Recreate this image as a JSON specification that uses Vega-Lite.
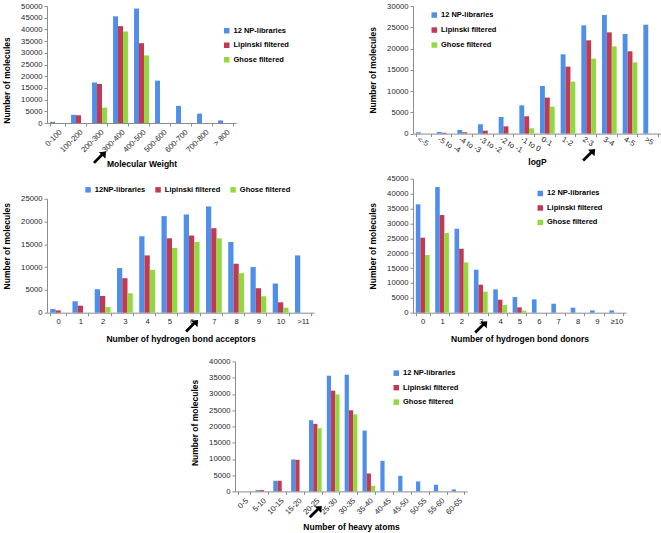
{
  "$schema": "https://vega.github.io/schema/vega-lite/v6.json",
  "padding": {"left": 2, "top": 2, "right": 0, "bottom": 0},
  "background": "white",
  "config": {
    "font": "Liberation Sans",
    "view": {"stroke": null},
    "axis": {"grid": false, "domainColor": "#8c8c8c", "tickColor": "#8c8c8c", "tickSize": 3, "labelPadding": 2, "labelFontSize": 7.7, "labelColor": "#262626", "titleFontSize": 8.5, "titleFontWeight": "bold", "titleColor": "#000000"},
    "axisY": {"titlePadding": 9, "format": "d"},
    "legend": {"title": null, "orient": "none", "symbolType": "square", "symbolSize": 30, "symbolStrokeWidth": 0, "labelFontSize": 7.5, "labelFontWeight": "bold", "labelColor": "#000000", "rowPadding": 5.5, "labelOffset": 3}
  },
  "columns": 1,
  "align": "none",
  "bounds": "full",
  "spacing": 6.7,
  "resolve": {"scale": {"x": "independent", "y": "independent", "color": "independent", "xOffset": "independent"}, "legend": {"color": "independent"}},
  "concat": [
    {
      "columns": 2,
      "align": "none",
      "bounds": "full",
      "spacing": 54,
      "resolve": {"scale": {"x": "independent", "y": "independent", "color": "independent", "xOffset": "independent"}, "legend": {"color": "independent"}},
      "concat": [
        {
          "width": 189, "height": 117,
          "encoding": {
            "x": {"field": "cat", "type": "nominal", "scale": {"domain": ["0-100","100-200","200-300","300-400","400-500","500-600","600-700","700-800","> 800"], "paddingInner": 0.29, "paddingOuter": 0.145}, "axis": {"title": "Molecular Weight", "labelAngle": -45, "titlePadding": 6, "tickBand": "extent"}},
            "y": {"field": "v", "type": "quantitative", "scale": {"domain": [0, 50000]}, "axis": {"title": "Number of molecules", "titleY": 74, "values": [0,5000,10000,15000,20000,25000,30000,35000,40000,45000,50000]}}
          },
          "layer": [
            {
              "data": {"values": [
                {"cat": "0-100", "s": "12 NP-libraries", "v": 500},
                {"cat": "100-200", "s": "12 NP-libraries", "v": 3500},
                {"cat": "100-200", "s": "Lipinski filtered", "v": 3300},
                {"cat": "200-300", "s": "12 NP-libraries", "v": 17300},
                {"cat": "200-300", "s": "Lipinski filtered", "v": 16700},
                {"cat": "200-300", "s": "Ghose filtered", "v": 6600},
                {"cat": "300-400", "s": "12 NP-libraries", "v": 45600},
                {"cat": "300-400", "s": "Lipinski filtered", "v": 41400},
                {"cat": "300-400", "s": "Ghose filtered", "v": 39100},
                {"cat": "400-500", "s": "12 NP-libraries", "v": 48900},
                {"cat": "400-500", "s": "Lipinski filtered", "v": 34100},
                {"cat": "400-500", "s": "Ghose filtered", "v": 28900},
                {"cat": "500-600", "s": "12 NP-libraries", "v": 18100},
                {"cat": "600-700", "s": "12 NP-libraries", "v": 7300},
                {"cat": "700-800", "s": "12 NP-libraries", "v": 4000},
                {"cat": "> 800", "s": "12 NP-libraries", "v": 1100}
              ]},
              "mark": "bar",
              "encoding": {
                "xOffset": {"field": "s", "type": "nominal", "scale": {"domain": ["12 NP-libraries","Lipinski filtered","Ghose filtered"], "paddingInner": 0, "paddingOuter": 0}},
                "color": {"field": "s", "type": "nominal", "scale": {"domain": ["12 NP-libraries","Lipinski filtered","Ghose filtered"], "range": ["#4F8FEA","#C13A51","#90DA3E"]}, "legend": {"legendX": 151, "legendY": -4, "padding": 25}}
              }
            },
            {
              "data": {"values": [{"cat": "200-300", "v": -14960}]},
              "mark": {"type": "point", "shape": "M1,-1 L0.9,0.1 L0.5,-0.3 L-0.7,0.9 L-1,0.6 L0.2,-0.6 L-0.1,-0.9 Z", "filled": true, "color": "#000000", "opacity": 1, "size": 170}
            }
          ]
        },
        {
          "width": 248, "height": 127.6,
          "encoding": {
            "x": {"field": "cat", "type": "nominal", "scale": {"domain": ["<-5","-5 to -4","-4 to -3","-3 to -2","-2 to -1","-1 to 0","0-1","1-2","2-3","3-4","4-5",">5"], "paddingInner": 0.29, "paddingOuter": 0.145}, "axis": {"title": "logP", "labelAngle": 30, "labelAlign": "left", "labelBaseline": "middle", "labelOffset": -6, "titlePadding": 4, "tickBand": "extent"}},
            "y": {"field": "v", "type": "quantitative", "scale": {"domain": [0, 30000]}, "axis": {"title": "Number of molecules", "values": [0,5000,10000,15000,20000,25000,30000]}}
          },
          "layer": [
            {
              "data": {"values": [
                {"cat": "<-5", "s": "12 NP-libraries", "v": 300},
                {"cat": "-5 to -4", "s": "12 NP-libraries", "v": 400},
                {"cat": "-5 to -4", "s": "Lipinski filtered", "v": 200},
                {"cat": "-4 to -3", "s": "12 NP-libraries", "v": 860},
                {"cat": "-4 to -3", "s": "Lipinski filtered", "v": 300},
                {"cat": "-3 to -2", "s": "12 NP-libraries", "v": 2200},
                {"cat": "-3 to -2", "s": "Lipinski filtered", "v": 700},
                {"cat": "-2 to -1", "s": "12 NP-libraries", "v": 3900},
                {"cat": "-2 to -1", "s": "Lipinski filtered", "v": 1700},
                {"cat": "-1 to 0", "s": "12 NP-libraries", "v": 6650},
                {"cat": "-1 to 0", "s": "Lipinski filtered", "v": 4070},
                {"cat": "-1 to 0", "s": "Ghose filtered", "v": 1250},
                {"cat": "0-1", "s": "12 NP-libraries", "v": 11200},
                {"cat": "0-1", "s": "Lipinski filtered", "v": 8460},
                {"cat": "0-1", "s": "Ghose filtered", "v": 6340},
                {"cat": "1-2", "s": "12 NP-libraries", "v": 18640},
                {"cat": "1-2", "s": "Lipinski filtered", "v": 15740},
                {"cat": "1-2", "s": "Ghose filtered", "v": 12220},
                {"cat": "2-3", "s": "12 NP-libraries", "v": 25450},
                {"cat": "2-3", "s": "Lipinski filtered", "v": 21930},
                {"cat": "2-3", "s": "Ghose filtered", "v": 17620},
                {"cat": "3-4", "s": "12 NP-libraries", "v": 27880},
                {"cat": "3-4", "s": "Lipinski filtered", "v": 23800},
                {"cat": "3-4", "s": "Ghose filtered", "v": 20520},
                {"cat": "4-5", "s": "12 NP-libraries", "v": 23410},
                {"cat": "4-5", "s": "Lipinski filtered", "v": 19340},
                {"cat": "4-5", "s": "Ghose filtered", "v": 16760},
                {"cat": ">5", "s": "12 NP-libraries", "v": 25600}
              ]},
              "mark": "bar",
              "encoding": {
                "xOffset": {"field": "s", "type": "nominal", "scale": {"domain": ["12 NP-libraries","Lipinski filtered","Ghose filtered"], "paddingInner": 0, "paddingOuter": 0}},
                "color": {"field": "s", "type": "nominal", "scale": {"domain": ["12 NP-libraries","Lipinski filtered","Ghose filtered"], "range": ["#4F8FEA","#C13A51","#90DA3E"]}, "legend": {"legendX": 17.5, "legendY": 5.3, "rowPadding": 6}}
              }
            },
            {
              "data": {"values": [{"cat": "2-3", "v": -5170}]},
              "mark": {"type": "point", "shape": "M1,-1 L0.9,0.1 L0.5,-0.3 L-0.7,0.9 L-1,0.6 L0.2,-0.6 L-0.1,-0.9 Z", "filled": true, "color": "#000000", "opacity": 1, "size": 170}
            }
          ]
        }
      ]
    },
    {
      "columns": 2,
      "align": "none",
      "bounds": "full",
      "spacing": 54,
      "resolve": {"scale": {"x": "independent", "y": "independent", "color": "independent", "xOffset": "independent"}, "legend": {"color": "independent"}},
      "concat": [
        {
          "width": 267, "height": 134,
          "encoding": {
            "x": {"field": "cat", "type": "nominal", "scale": {"domain": ["0","1","2","3","4","5","6","7","8","9","10",">11"], "paddingInner": 0.29, "paddingOuter": 0.145}, "axis": {"title": "Number of hydrogen bond acceptors", "labelAngle": 0, "titlePadding": 9, "tickBand": "extent"}},
            "y": {"field": "v", "type": "quantitative", "scale": {"domain": [0, 25000], "range": [134, 20]}, "axis": {"title": "Number of molecules", "titleY": 67, "values": [0,5000,10000,15000,20000,25000]}}
          },
          "layer": [
            {
              "data": {"values": [
                {"cat": "0", "s": "12NP-libraries", "v": 800},
                {"cat": "0", "s": "Lipinski filtered", "v": 500},
                {"cat": "1", "s": "12NP-libraries", "v": 2500},
                {"cat": "1", "s": "Lipinski filtered", "v": 1540},
                {"cat": "2", "s": "12NP-libraries", "v": 5150},
                {"cat": "2", "s": "Lipinski filtered", "v": 3680},
                {"cat": "2", "s": "Ghose filtered", "v": 1250},
                {"cat": "3", "s": "12NP-libraries", "v": 9780},
                {"cat": "3", "s": "Lipinski filtered", "v": 7570},
                {"cat": "3", "s": "Ghose filtered", "v": 4260},
                {"cat": "4", "s": "12NP-libraries", "v": 16760},
                {"cat": "4", "s": "Lipinski filtered", "v": 12570},
                {"cat": "4", "s": "Ghose filtered", "v": 9410},
                {"cat": "5", "s": "12NP-libraries", "v": 21180},
                {"cat": "5", "s": "Lipinski filtered", "v": 16320},
                {"cat": "5", "s": "Ghose filtered", "v": 14190},
                {"cat": "6", "s": "12NP-libraries", "v": 21540},
                {"cat": "6", "s": "Lipinski filtered", "v": 16910},
                {"cat": "6", "s": "Ghose filtered", "v": 15510},
                {"cat": "7", "s": "12NP-libraries", "v": 23310},
                {"cat": "7", "s": "Lipinski filtered", "v": 18530},
                {"cat": "7", "s": "Ghose filtered", "v": 16320},
                {"cat": "8", "s": "12NP-libraries", "v": 15510},
                {"cat": "8", "s": "Lipinski filtered", "v": 10740},
                {"cat": "8", "s": "Ghose filtered", "v": 8680},
                {"cat": "9", "s": "12NP-libraries", "v": 10000},
                {"cat": "9", "s": "Lipinski filtered", "v": 5370},
                {"cat": "9", "s": "Ghose filtered", "v": 3600},
                {"cat": "10", "s": "12NP-libraries", "v": 6400},
                {"cat": "10", "s": "Lipinski filtered", "v": 2280},
                {"cat": "10", "s": "Ghose filtered", "v": 1100},
                {"cat": ">11", "s": "12NP-libraries", "v": 12570}
              ]},
              "mark": "bar",
              "encoding": {
                "xOffset": {"field": "s", "type": "nominal", "scale": {"domain": ["12NP-libraries","Lipinski filtered","Ghose filtered"], "paddingInner": 0, "paddingOuter": 0}},
                "color": {"field": "s", "type": "nominal", "scale": {"domain": ["12NP-libraries","Lipinski filtered","Ghose filtered"], "range": ["#4F8FEA","#C13A51","#90DA3E"]}, "legend": {"legendX": 37.3, "legendY": 7, "direction": "horizontal", "columns": 3, "columnPadding": 9}}
              }
            },
            {
              "data": {"values": [{"cat": "6", "v": -3043}]},
              "mark": {"type": "point", "shape": "M1,-1 L0.9,0.1 L0.5,-0.3 L-0.7,0.9 L-1,0.6 L0.2,-0.6 L-0.1,-0.9 Z", "filled": true, "color": "#000000", "opacity": 1, "size": 170}
            }
          ]
        },
        {
          "width": 213, "height": 134,
          "encoding": {
            "x": {"field": "cat", "type": "nominal", "scale": {"domain": ["0","1","2","3","4","5","6","7","8","9","≥10"], "paddingInner": 0.29, "paddingOuter": 0.145}, "axis": {"title": "Number of hydrogen bond donors", "labelAngle": 0, "titlePadding": 9, "tickBand": "extent"}},
            "y": {"field": "v", "type": "quantitative", "scale": {"domain": [0, 45000]}, "axis": {"title": "Number of molecules", "values": [0,5000,10000,15000,20000,25000,30000,35000,40000,45000]}}
          },
          "layer": [
            {
              "data": {"values": [
                {"cat": "0", "s": "12 NP-libraries", "v": 36400},
                {"cat": "0", "s": "Lipinski filtered", "v": 25200},
                {"cat": "0", "s": "Ghose filtered", "v": 19370},
                {"cat": "1", "s": "12 NP-libraries", "v": 42200},
                {"cat": "1", "s": "Lipinski filtered", "v": 32800},
                {"cat": "1", "s": "Ghose filtered", "v": 26760},
                {"cat": "2", "s": "12 NP-libraries", "v": 28200},
                {"cat": "2", "s": "Lipinski filtered", "v": 21500},
                {"cat": "2", "s": "Ghose filtered", "v": 16900},
                {"cat": "3", "s": "12 NP-libraries", "v": 14440},
                {"cat": "3", "s": "Lipinski filtered", "v": 9400},
                {"cat": "3", "s": "Ghose filtered", "v": 7050},
                {"cat": "4", "s": "12 NP-libraries", "v": 7840},
                {"cat": "4", "s": "Lipinski filtered", "v": 4370},
                {"cat": "4", "s": "Ghose filtered", "v": 2570},
                {"cat": "5", "s": "12 NP-libraries", "v": 5260},
                {"cat": "5", "s": "Lipinski filtered", "v": 1790},
                {"cat": "5", "s": "Ghose filtered", "v": 670},
                {"cat": "6", "s": "12 NP-libraries", "v": 4480},
                {"cat": "7", "s": "12 NP-libraries", "v": 3020},
                {"cat": "8", "s": "12 NP-libraries", "v": 1680},
                {"cat": "9", "s": "12 NP-libraries", "v": 780},
                {"cat": "≥10", "s": "12 NP-libraries", "v": 780}
              ]},
              "mark": "bar",
              "encoding": {
                "xOffset": {"field": "s", "type": "nominal", "scale": {"domain": ["12 NP-libraries","Lipinski filtered","Ghose filtered"], "paddingInner": 0, "paddingOuter": 0}},
                "color": {"field": "s", "type": "nominal", "scale": {"domain": ["12 NP-libraries","Lipinski filtered","Ghose filtered"], "range": ["#4F8FEA","#C13A51","#90DA3E"]}, "legend": {"legendX": 123.5, "legendY": 11}}
              }
            },
            {
              "data": {"values": [{"cat": "3", "v": -5040}]},
              "mark": {"type": "point", "shape": "M1,-1 L0.9,0.1 L0.5,-0.3 L-0.7,0.9 L-1,0.6 L0.2,-0.6 L-0.1,-0.9 Z", "filled": true, "color": "#000000", "opacity": 1, "size": 170}
            }
          ]
        }
      ]
    },
    {
      "columns": 2,
      "align": "none",
      "bounds": "full",
      "spacing": 54,
      "resolve": {"scale": {"x": "independent", "y": "independent", "color": "independent", "xOffset": "independent"}, "legend": {"color": "independent"}},
      "concat": [
        {
          "width": 89, "height": 10,
          "data": {"values": [{"k": 1}]},
          "mark": {"type": "point", "opacity": 0}
        },
        {
          "width": 232, "height": 130,
          "encoding": {
            "x": {"field": "cat", "type": "nominal", "scale": {"domain": ["0-5","5-10","10-15","15-20","20-25","25-30","30-35","35-40","40-45","45-50","50-55","55-60","60-65"], "paddingInner": 0.29, "paddingOuter": 0.145}, "axis": {"title": "Number of heavy atoms", "labelAngle": -45, "titlePadding": 7, "tickBand": "extent"}},
            "y": {"field": "v", "type": "quantitative", "scale": {"domain": [0, 40000]}, "axis": {"title": "Number of molecules", "titleY": 61, "values": [0,5000,10000,15000,20000,25000,30000,35000,40000]}}
          },
          "layer": [
            {
              "data": {"values": [
                {"cat": "5-10", "s": "12 NP-libraries", "v": 400},
                {"cat": "5-10", "s": "Lipinski filtered", "v": 400},
                {"cat": "10-15", "s": "12 NP-libraries", "v": 3270},
                {"cat": "10-15", "s": "Lipinski filtered", "v": 3270},
                {"cat": "15-20", "s": "12 NP-libraries", "v": 9820},
                {"cat": "15-20", "s": "Lipinski filtered", "v": 9720},
                {"cat": "20-25", "s": "12 NP-libraries", "v": 21900},
                {"cat": "20-25", "s": "Lipinski filtered", "v": 20770},
                {"cat": "20-25", "s": "Ghose filtered", "v": 19440},
                {"cat": "25-30", "s": "12 NP-libraries", "v": 35600},
                {"cat": "25-30", "s": "Lipinski filtered", "v": 31000},
                {"cat": "25-30", "s": "Ghose filtered", "v": 29870},
                {"cat": "30-35", "s": "12 NP-libraries", "v": 35900},
                {"cat": "30-35", "s": "Lipinski filtered", "v": 24960},
                {"cat": "30-35", "s": "Ghose filtered", "v": 23730},
                {"cat": "35-40", "s": "12 NP-libraries", "v": 18720},
                {"cat": "35-40", "s": "Lipinski filtered", "v": 5520},
                {"cat": "35-40", "s": "Ghose filtered", "v": 1740},
                {"cat": "40-45", "s": "12 NP-libraries", "v": 9410},
                {"cat": "45-50", "s": "12 NP-libraries", "v": 4810},
                {"cat": "50-55", "s": "12 NP-libraries", "v": 3070},
                {"cat": "55-60", "s": "12 NP-libraries", "v": 2050},
                {"cat": "60-65", "s": "12 NP-libraries", "v": 610}
              ]},
              "mark": "bar",
              "encoding": {
                "xOffset": {"field": "s", "type": "nominal", "scale": {"domain": ["12 NP-libraries","Lipinski filtered","Ghose filtered"], "paddingInner": 0, "paddingOuter": 0}},
                "color": {"field": "s", "type": "nominal", "scale": {"domain": ["12 NP-libraries","Lipinski filtered","Ghose filtered"], "range": ["#4F8FEA","#C13A51","#90DA3E"]}, "legend": {"legendX": 138.7, "legendY": -10.8, "padding": 18.8}}
              }
            },
            {
              "data": {"values": [{"cat": "20-25", "v": -6460}]},
              "mark": {"type": "point", "shape": "M1,-1 L0.9,0.1 L0.5,-0.3 L-0.7,0.9 L-1,0.6 L0.2,-0.6 L-0.1,-0.9 Z", "filled": true, "color": "#000000", "opacity": 1, "size": 170}
            }
          ]
        }
      ]
    }
  ]
}
